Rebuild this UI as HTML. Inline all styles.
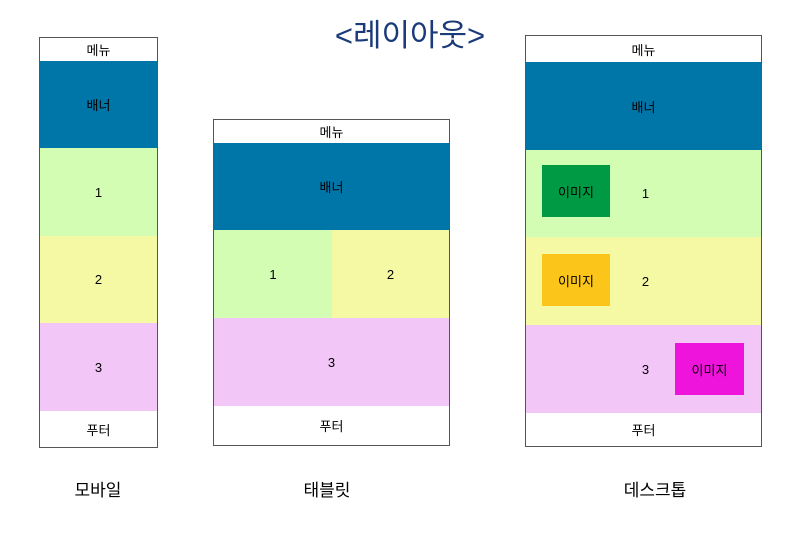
<!DOCTYPE html>
<html><head><meta charset="utf-8"><style>
body{margin:0;width:806px;height:550px;background:#fff;position:relative;overflow:hidden;font-family:"Liberation Sans","Noto Sans CJK KR",sans-serif;}
div{position:absolute;box-sizing:border-box;display:flex;align-items:center;justify-content:center;font-size:13px;color:#000;}
.box{border:1px solid #555;background:#fff;display:block;}
.menu,.footer{background:#fff;}
.banner{background:#0076a8;}
.g{background:#d4fdb4;}.y{background:#f5f9a4;}.p{background:#f3c6f8;}
.cap{font-size:17px;}
</style></head><body>
<div style="left:300px;top:10px;width:220px;height:44px;font-size:31px;color:#1a3a7a;">&lt;레이아웃&gt;</div>

<div class="box" style="left:39px;top:37px;width:119px;height:411px;"></div>
<div class="menu" style="left:40px;top:38px;width:117px;height:23px;">메뉴</div>
<div class="banner" style="left:40px;top:61px;width:117px;height:87px;">배너</div>
<div class="g" style="left:40px;top:148px;width:117px;height:88px;">1</div>
<div class="y" style="left:40px;top:236px;width:117px;height:87px;">2</div>
<div class="p" style="left:40px;top:323px;width:117px;height:88px;">3</div>
<div class="footer" style="left:40px;top:411px;width:117px;height:36px;">푸터</div>
<div class="cap" style="left:48px;top:476px;width:100px;height:24px;">모바일</div>

<div class="box" style="left:213px;top:119px;width:237px;height:327px;"></div>
<div class="menu" style="left:214px;top:120px;width:235px;height:23px;">메뉴</div>
<div class="banner" style="left:214px;top:143px;width:235px;height:87px;">배너</div>
<div class="g" style="left:214px;top:230px;width:118px;height:88px;">1</div>
<div class="y" style="left:332px;top:230px;width:117px;height:88px;">2</div>
<div class="p" style="left:214px;top:318px;width:235px;height:88px;">3</div>
<div class="footer" style="left:214px;top:406px;width:235px;height:39px;">푸터</div>
<div class="cap" style="left:277px;top:476px;width:100px;height:24px;">태블릿</div>

<div class="box" style="left:525px;top:35px;width:237px;height:412px;"></div>
<div class="menu" style="left:526px;top:36px;width:235px;height:26px;">메뉴</div>
<div class="banner" style="left:526px;top:62px;width:235px;height:88px;">배너</div>
<div class="g" style="left:526px;top:150px;width:235px;height:87px;padding-left:4px;">1</div>
<div class="y" style="left:526px;top:237px;width:235px;height:88px;padding-left:4px;">2</div>
<div class="p" style="left:526px;top:325px;width:235px;height:88px;padding-left:4px;">3</div>
<div class="footer" style="left:526px;top:413px;width:235px;height:33px;">푸터</div>
<div style="left:542px;top:165px;width:68px;height:52px;background:#009a44;">이미지</div>
<div style="left:542px;top:254px;width:68px;height:52px;background:#fbc51a;">이미지</div>
<div style="left:675px;top:343px;width:69px;height:52px;background:#ee14dc;">이미지</div>
<div class="cap" style="left:605px;top:476px;width:100px;height:24px;">데스크톱</div>
</body></html>
